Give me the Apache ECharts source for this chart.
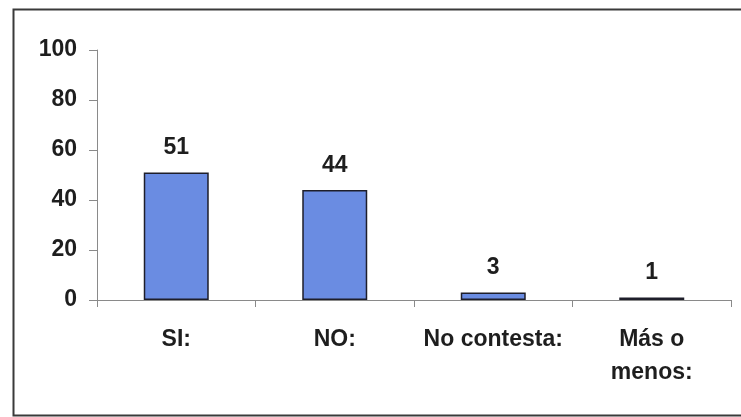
<!DOCTYPE html>
<html><head><meta charset="utf-8">
<script src="https://cdn.jsdelivr.net/npm/echarts@6/dist/echarts.min.js"></script>
<style>html,body{margin:0;padding:0;background:#fff}#c{width:741px;height:417px}</style>
</head><body><div id="c"></div>
<script>
var categories = ['SI:', 'NO:', 'No contesta:', 'Más o\nmenos:'];
var values = [51, 44, 3, 1];
var yTicks = [0, 20, 40, 60, 80, 100];

var chart = echarts.init(document.getElementById('c'), null, {renderer: 'canvas'});
var font = '"Liberation Sans", Arial, sans-serif';
chart.setOption({
  animation: false,
  backgroundColor: '#fff',
  graphic: [{
    type: 'rect', left: 11, top: 7, z: -1,
    shape: {x: 0, y: 0, width: 745, height: 406},
    style: {fill: 'none', stroke: '#3a3a3a', lineWidth: 2}
  }],
  grid: {left: 97, right: 10, top: 50, bottom: 117, containLabel: false},
  xAxis: {
    type: 'category', data: categories,
    axisLine: {lineStyle: {color: '#8a8a8a', width: 1}},
    axisTick: {show: true, alignWithLabel: false, length: 7, lineStyle: {color: '#8a8a8a'}},
    axisLabel: {color: '#1e1e1e', fontFamily: font, fontWeight: 'bold', fontSize: 23, margin: 23, lineHeight: 33, interval: 0}
  },
  yAxis: {
    type: 'value', min: 0, max: 100, interval: 20,
    axisLine: {show: true, lineStyle: {color: '#8a8a8a', width: 1}},
    axisTick: {show: true, length: 8, inside: false, lineStyle: {color: '#8a8a8a'}},
    splitLine: {show: false},
    axisLabel: {color: '#1e1e1e', fontFamily: font, fontWeight: 'bold', fontSize: 23, margin: 20,
      formatter: function (v) { return yTicks.indexOf(v) >= 0 ? String(v) : ''; }}
  },
  series: [{
    type: 'bar', data: values, barWidth: '41%',
    itemStyle: {color: '#6a8ce2', borderColor: '#1e1e2a', borderWidth: 1.5},
    label: {show: true, position: 'top', distance: 13, color: '#1e1e1e', fontFamily: font, fontWeight: 'bold', fontSize: 23}
  }]
});
</script></body></html>
